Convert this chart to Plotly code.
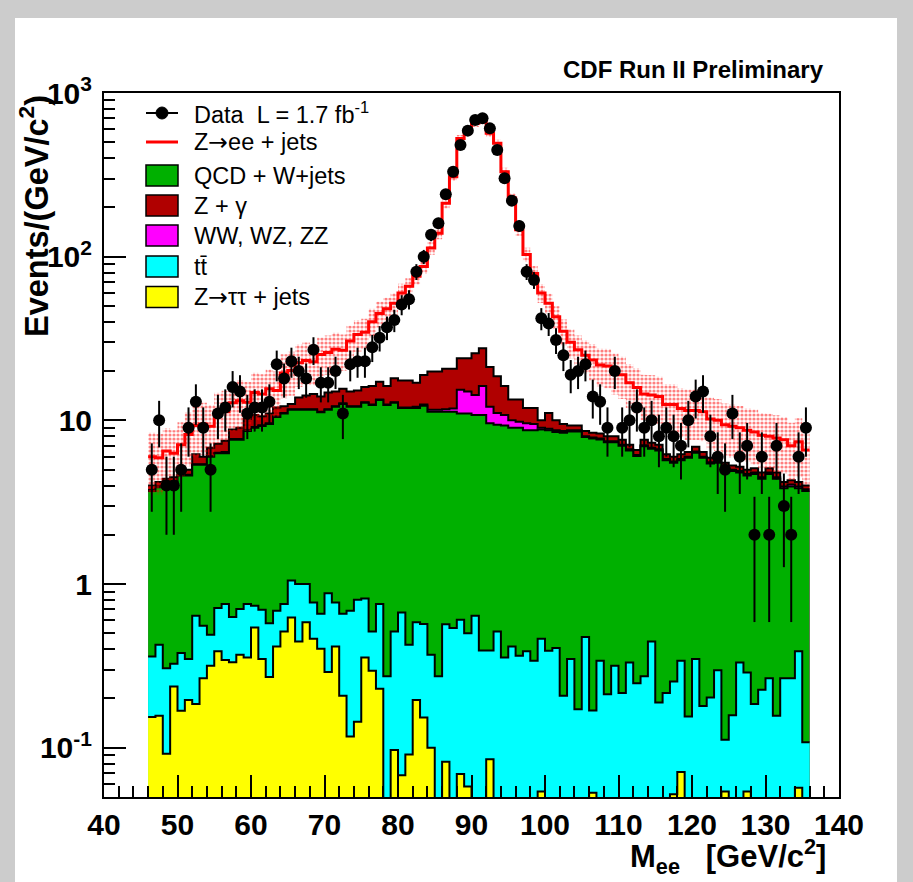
import numpy as np
import plotly.graph_objects as go

# ---------------- data ----------------
bin_low, bin_high, bin_width = 46, 136, 1

data_counts = [5, 10, 4, 4, 5, 9, 13, 9, 5, 11,
               12, 16, 15, 11, 12, 12, 13, 22, 18, 23,
               20, 18, 27, 17, 17, 20, 11, 22, 23, 23,
               28, 32, 37, 41, 51, 55, 81, 100, 136, 160,
               241, 330, 481, 589, 683, 700, 608, 449, 301, 220,
               154, 81, 72, 42, 39, 31, 25, 19, 20, 22,
               14, 13, 9, 20, 9, 10, 12, 9, 10, 8,
               9, 8, 7, 10, 14, 15, 8, 6, 5, 11,
               6, 7, 2, 6, 2, 7, 3, 2, 6, 9]

# stack levels (top edge of each stacked component, bottom -> top)
top_ztt = [0.154, 0.157, 0.092, 0.237, 0.168, 0.196, 0.185, 0.266, 0.317, 0.388,
           0.344, 0.333, 0.370, 0.356, 0.543, 0.349, 0.270, 0.416, 0.513, 0.625,
           0.446, 0.585, 0.463, 0.402, 0.290, 0.416, 0.208, 0.117, 0.144, 0.356,
           0.295, 0.229, 0, 0.097, 0.068, 0.091, 0.196, 0.153, 0.100, 0,
           0.082, 0, 0.069, 0.058, 0, 0, 0.085, 0, 0, 0,
           0, 0, 0, 0.054, 0, 0, 0, 0, 0, 0,
           0.053, 0, 0, 0, 0, 0, 0, 0, 0, 0,
           0, 0.052, 0.071, 0, 0, 0, 0, 0, 0.054, 0,
           0, 0.054, 0, 0, 0, 0, 0, 0, 0.057, 0]

top_ttbar = [0.361, 0.426, 0.306, 0.326, 0.379, 0.348, 0.640, 0.556, 0.490, 0.713,
             0.754, 0.628, 0.703, 0.754, 0.736, 0.697, 0.577, 0.687, 0.754, 1.05,
             1.00, 1.00, 0.771, 0.658, 0.879, 0.771, 0.658, 0.687, 0.801, 0.817,
             0.513, 0.754, 0.273, 0.513, 0.670, 0.426, 0.585, 0.571, 0.370, 0.273,
             0.569, 0.538, 0.605, 0.501, 0.640, 0.393, 0.393, 0.513, 0.356, 0.416,
             0.365, 0.388, 0.340, 0.463, 0.391, 0.406, 0.208, 0.348, 0.172, 0.474,
             0.169, 0.340, 0.212, 0.317, 0.216, 0.332, 0.248, 0.273, 0.446, 0.189,
             0.216, 0.254, 0.340, 0.155, 0.348, 0.180, 0.203, 0.297, 0.112, 0.158,
             0.332, 0.288, 0.185, 0.226, 0.266, 0.157, 0.266, 0.266, 0.388, 0.108]

top_qcd = [3.7, 3.9, 4.2, 4.2, 4.6, 4.6, 5.35, 5.35, 6.0, 6.3,
           6.3, 7.6, 7.6, 8.6, 9.0, 9.25, 9.5, 10.5, 11.0, 11.6,
           11.6, 11.6, 11.6, 11.2, 11.6, 12.1, 12.6, 12.1, 12.1, 12.8,
           12.4, 13.3, 12.4, 12.8, 11.9, 11.9, 11.9, 12.3, 11.3, 11.3,
           11.3, 11.3, 11.0, 11.0, 10.8, 10.8, 9.6, 9.4, 9.3, 9.0,
           9.0, 8.7, 8.7, 8.8, 8.7, 8.5, 8.4, 8.55, 8.55, 7.9,
           7.75, 7.65, 7.35, 7.35, 7.0, 6.55, 6.05, 6.95, 6.7, 6.55,
           5.7, 5.5, 5.7, 5.9, 6.35, 5.9, 5.45, 5.5, 5.05, 4.9,
           4.8, 4.6, 4.7, 4.4, 4.7, 4.4, 3.85, 3.95, 3.85, 3.7]

top_diboson = [3.75, 3.95, 4.25, 4.25, 4.65, 4.65, 5.4, 5.4, 6.05, 6.35,
               6.4, 7.7, 7.7, 8.7, 9.1, 9.35, 9.6, 10.6, 11.1, 11.7,
               11.7, 11.7, 11.7, 11.3, 11.7, 12.2, 12.7, 12.2, 12.2, 12.9,
               12.5, 13.4, 12.5, 12.9, 12.0, 12.0, 12.1, 12.5, 11.6, 11.6,
               11.7, 11.8, 15.4, 15.0, 14.3, 16.2, 12.1, 11.1, 10.8, 10.0,
               9.8, 9.6, 9.5, 9.0, 8.9, 8.7, 8.6, 8.7, 8.7, 8.0,
               7.85, 7.75, 7.45, 7.45, 7.1, 6.65, 6.15, 7.05, 6.8, 6.65,
               5.8, 5.6, 5.8, 6.0, 6.45, 6.0, 5.55, 5.6, 5.15, 5.0,
               4.9, 4.7, 4.8, 4.5, 4.8, 4.5, 3.95, 4.05, 3.95, 3.8]

top_zgamma = [4.0, 4.2, 4.4, 4.5, 4.8, 5.0, 6.2, 6.0, 6.8, 7.2,
              7.5, 8.8, 9.0, 10.2, 10.8, 10.6, 11.0, 12.0, 12.2, 12.6,
              13.8, 14.2, 14.5, 14.0, 14.8, 15.0, 15.6, 15.0, 15.2, 16.0,
              16.2, 17.2, 16.2, 18.1, 17.5, 17.5, 17.0, 18.9, 19.9, 19.9,
              20.7, 20.7, 24.0, 24.0, 25.7, 27.6, 21.2, 18.6, 16.2, 13.4,
              13.4, 11.9, 11.9, 10.0, 11.1, 10.0, 9.5, 9.3, 9.3, 8.6,
              8.4, 8.3, 8.0, 8.0, 7.6, 7.1, 6.6, 7.6, 7.3, 7.1,
              6.2, 6.0, 6.2, 6.4, 6.9, 6.4, 5.9, 6.0, 5.5, 5.3,
              5.2, 5.0, 5.1, 4.8, 5.1, 4.8, 4.2, 4.3, 4.2, 4.0]

top_zee = [6.0, 5.9, 6.5, 6.3, 7.1, 8.2, 9.3, 9.5, 9.2, 11.0,
           11.3, 12.8, 13.2, 12.9, 14.8, 14.5, 15.6, 15.2, 19.5, 20.2,
           22.5, 23.2, 22.8, 25.3, 26.0, 27.2, 26.8, 30.5, 33.5, 34.5,
           40, 45, 48, 52, 60, 66, 76, 87, 113, 139,
           212, 308, 528, 580, 653, 684, 567, 493, 330, 228,
           146, 103, 79, 60, 52, 43, 35, 30, 27, 25,
           23.4, 21.8, 21.5, 20, 19, 17, 15.9, 14.5, 14.3, 14,
           12.5, 12.5, 11.8, 11.5, 11.5, 11.3, 10.2, 10, 9.4, 9.2,
           9.0, 8.7, 8.5, 8.1, 8.0, 7.8, 7.6, 7.0, 7.4, 6.6]

# relative uncertainty of the total prediction (hatched band)
mc_rel_err = [0.40, 0.40, 0.38, 0.38, 0.37, 0.36, 0.36, 0.35, 0.35, 0.34,
              0.34, 0.33, 0.33, 0.33, 0.32, 0.32, 0.31, 0.31, 0.30, 0.30,
              0.29, 0.29, 0.28, 0.27, 0.27, 0.26, 0.25, 0.24, 0.22, 0.21,
              0.20, 0.18, 0.17, 0.15, 0.14, 0.12, 0.11, 0.10, 0.09, 0.08,
              0.07, 0.06, 0.05, 0.05, 0.05, 0.05, 0.05, 0.05, 0.06, 0.07,
              0.08, 0.10, 0.11, 0.13, 0.14, 0.16, 0.18, 0.20, 0.22, 0.23,
              0.25, 0.26, 0.27, 0.28, 0.29, 0.30, 0.31, 0.31, 0.32, 0.32,
              0.33, 0.33, 0.33, 0.34, 0.34, 0.34, 0.35, 0.35, 0.35, 0.36,
              0.36, 0.36, 0.37, 0.37, 0.37, 0.38, 0.38, 0.38, 0.39, 0.39]

ARROW = '<span style="font-family:DejaVu Sans">\u2192</span>'
legend_labels = ["Data  L = 1.7 fb<sup>-1</sup>", "Z" + ARROW + "ee + jets", "QCD + W+jets",
                 "Z + \u03b3", "WW, WZ, ZZ", "tt\u0304", "Z" + ARROW + "\u03c4\u03c4 + jets"]

x_ticks = [40, 50, 60, 70, 80, 90, 100, 110, 120, 130, 140]
y_tickvals = [0.1, 1, 10, 100, 1000]
y_ticktext = ["10<sup>-1</sup>", "1", "10", "10<sup>2</sup>", "10<sup>3</sup>"]

# ---------------- styles ----------------
C_ZTT, C_TT, C_QCD, C_VV, C_ZG = "#ffff00", "#00ffff", "#00b000", "#ff00ff", "#b00000"
FONT = "Liberation Sans, Arial, Helvetica, sans-serif"

edges = np.arange(bin_low, bin_high + bin_width, bin_width)
centers = edges[:-1] + bin_width / 2.0
FLOOR = 1e-3  # empty bins drawn below the visible axis range


def step_y(v):
    v = np.maximum(np.asarray(v, float), FLOOR)
    return np.append(v, v[-1])


fig = go.Figure()

# stacked histograms, drawn from the top of the stack down
for vals, col in [(top_zgamma, C_ZG), (top_diboson, C_VV), (top_qcd, C_QCD),
                  (top_ttbar, C_TT), (top_ztt, C_ZTT)]:
    fig.add_trace(go.Scatter(x=edges, y=step_y(vals), mode="lines",
                             line=dict(shape="hv", color="black", width=2),
                             fill="tozeroy", fillcolor=col,
                             showlegend=False, hoverinfo="skip"))

# uncertainty band of total prediction
tot = np.asarray(top_zee, float)
rel = np.asarray(mc_rel_err, float)
up = tot * (1 + rel)
lo = tot * (1 - rel)
xs = np.repeat(edges, 2)[1:-1]
band_x = np.concatenate([xs, xs[::-1]])
band_y = np.concatenate([np.repeat(up, 2), np.repeat(lo, 2)[::-1]])
fig.add_trace(go.Scatter(x=band_x, y=band_y, mode="lines", fill="toself",
                         line=dict(width=0, color="rgba(0,0,0,0)"),
                         fillcolor="rgba(0,0,0,0)",
                         fillpattern=dict(shape=".", fgcolor="#ff0000",
                                          bgcolor="rgba(0,0,0,0)", size=4,
                                          solidity=0.5),
                         showlegend=False, hoverinfo="skip"))

# total prediction line
fig.add_trace(go.Scatter(x=edges, y=step_y(top_zee), mode="lines",
                         line=dict(shape="hv", color="#ff0000", width=3),
                         showlegend=False, hoverinfo="skip"))

# data
cnt = np.asarray(data_counts, float)
fig.add_trace(go.Scatter(x=centers, y=cnt, mode="markers",
                         marker=dict(color="black", size=12, symbol="circle"),
                         error_y=dict(type="data", array=np.sqrt(cnt), color="black",
                                      thickness=2, width=0),
                         showlegend=False))

# ---------------- layout ----------------
L, R, T, B = 104, 839, 93, 797
W_, H_ = R - L, B - T


def px(x):
    return (x - L) / W_


def py(y):
    return (B - y) / H_


minor_y = [m * 10.0 ** e for e in range(-2, 3) for m in range(2, 10)
           if 0.05 <= m * 10.0 ** e <= 1000]

fig.update_layout(
    width=913, height=882,
    margin=dict(l=L, r=913 - R, t=T, b=882 - B, pad=0),
    paper_bgcolor="#cccccc", plot_bgcolor="white",
    font=dict(family=FONT, color="black"),
    xaxis=dict(range=[40, 140], tickvals=x_ticks, ticks="inside", ticklen=22,
               tickwidth=1.5, tickcolor="black", showline=True, linewidth=2,
               linecolor="black", mirror=True, showgrid=False, zeroline=False,
               tickfont=dict(family=FONT, size=30, weight="bold", color="black"),
               minor=dict(ticks="inside", ticklen=11, dtick=2, tickwidth=1.5,
                          tickcolor="black", showgrid=False)),
    yaxis=dict(type="log", range=[np.log10(0.05), 3], tickvals=y_tickvals,
               ticktext=y_ticktext, ticks="inside", ticklen=22, tickwidth=1.5,
               tickcolor="black", showline=True, linewidth=2, linecolor="black",
               mirror=True, showgrid=False, zeroline=False, ticklabelstandoff=4,
               tickfont=dict(family=FONT, size=30, weight="bold", color="black"),
               minor=dict(ticks="inside", ticklen=11, tickvals=minor_y,
                          tickwidth=1.5, tickcolor="black", showgrid=False)),
)

shapes = [dict(type="rect", xref="paper", yref="paper", layer="below",
               x0=px(15), x1=px(897), y0=py(18), y1=py(882),
               fillcolor="white", line=dict(width=0))]

ann = [
    dict(text="<b>CDF Run II Preliminary</b>", x=px(826), y=py(70), xanchor="right",
         yanchor="middle", font=dict(size=24)),
    dict(text="<b>M<sub>ee</sub>\u00a0\u00a0\u00a0[GeV/c<sup>2</sup>]</b>", x=px(828), y=py(881),
         xanchor="right", yanchor="bottom", font=dict(size=31)),
    dict(text="<b>Events/(GeV/c<sup>2</sup>)</b>", textangle=-90, x=px(34), y=py(93),
         xanchor="center", yanchor="top", font=dict(size=32.5)),
]

# legend (drawn by hand inside the frame)
row_y = [113, 142, 175.5, 205.5, 235.5, 266.5, 297]
lx0, lx1, tx = 146, 178, 192
for lab, yy in zip(legend_labels, row_y):
    ann.append(dict(text=lab, x=px(tx), y=py(yy), xanchor="left", yanchor="middle",
                    font=dict(size=23.5)))
shapes.append(dict(type="line", xref="paper", yref="paper", x0=px(lx0), x1=px(lx1),
                   y0=py(row_y[0]), y1=py(row_y[0]), line=dict(color="black", width=2)))
shapes.append(dict(type="circle", xref="paper", yref="paper", x0=px(156), x1=px(168),
                   y0=py(row_y[0] + 6), y1=py(row_y[0] - 6), fillcolor="black",
                   line=dict(color="black", width=1)))
shapes.append(dict(type="line", xref="paper", yref="paper", x0=px(lx0), x1=px(lx1),
                   y0=py(row_y[1]), y1=py(row_y[1]), line=dict(color="#ff0000", width=3)))
for col, yy in zip([C_QCD, C_ZG, C_VV, C_TT, C_ZTT], row_y[2:]):
    shapes.append(dict(type="rect", xref="paper", yref="paper", x0=px(lx0), x1=px(lx1),
                       y0=py(yy + 10.5), y1=py(yy - 10.5), fillcolor=col,
                       line=dict(color="black", width=1.5)))

fig.update_layout(annotations=[dict(a, xref="paper", yref="paper", showarrow=False)
                               for a in ann],
                  shapes=shapes)

fig.write_html("out.html")
